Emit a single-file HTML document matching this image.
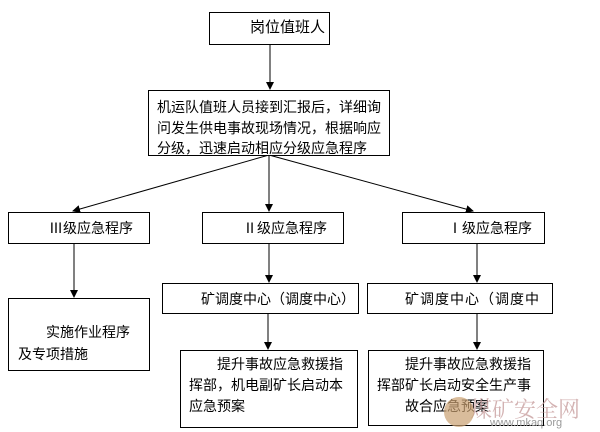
<!DOCTYPE html>
<html><head><meta charset="utf-8"><style>
body{margin:0;width:600px;height:432px;background:#fff;position:relative;overflow:hidden;font-family:"Liberation Sans","Noto Sans CJK SC","WenQuanYi Zen Hei",sans-serif;color:#000}
.b{position:absolute;border:1px solid #000;box-sizing:border-box;background:#fff;overflow:hidden;font-size:14px;line-height:20px}
.t{position:absolute;white-space:nowrap}
svg{position:absolute;left:0;top:0}
</style></head><body>
<svg width="600" height="432">
<defs><marker id="a" markerWidth="8" markerHeight="8" refX="7" refY="4" orient="auto" markerUnits="userSpaceOnUse"><path d="M0,0 L8,4 L0,8 z" fill="#000"/></marker></defs>
<g stroke="#000" stroke-width="1" fill="none">
<line x1="270" y1="44" x2="270" y2="89" marker-end="url(#a)"/>
<line x1="269" y1="155" x2="269" y2="211" marker-end="url(#a)"/>
<line x1="269" y1="155" x2="73" y2="211" marker-end="url(#a)"/>
<line x1="269" y1="155" x2="473" y2="211" marker-end="url(#a)"/>
<line x1="74" y1="243" x2="74" y2="297" marker-end="url(#a)"/>
<line x1="269" y1="243" x2="269" y2="282" marker-end="url(#a)"/>
<line x1="477" y1="243" x2="477" y2="282" marker-end="url(#a)"/>
<line x1="268" y1="313" x2="268" y2="349" marker-end="url(#a)"/>
<line x1="477" y1="313" x2="477" y2="349" marker-end="url(#a)"/>
</g></svg>
<div class="b" style="left:209px;top:12px;width:121px;height:33px"><span class="t" style="left:40px;top:5px;font-size:15px">岗位值班人</span></div>
<div class="b" style="left:148px;top:90px;width:242px;height:66px;font-size:14px;line-height:20.5px"><div style="position:absolute;left:8px;top:6px;white-space:nowrap">机运队值班人员接到汇报后，详细询<br>问发生供电事故现场情况，根据响应<br>分级，迅速启动相应分级应急程序</div></div>
<div class="b" style="left:8px;top:212px;width:142px;height:32px"><span class="t" style="left:40px;top:5px">Ⅲ级应急程序</span></div>
<div class="b" style="left:202px;top:212px;width:142px;height:32px"><span class="t" style="left:40px;top:5px">Ⅱ级应急程序</span></div>
<div class="b" style="left:402px;top:212px;width:143px;height:32px"><span class="t" style="left:45px;top:5px">Ⅰ级应急程序</span></div>
<div class="b" style="left:8px;top:298px;width:142px;height:73px"><div class="t" style="left:9px;top:22px;line-height:22px">　　实施作业程序<br>及专项措施</div></div>
<div class="b" style="left:162px;top:283px;width:197px;height:31px;font-size:14px"><span class="t" style="left:38px;top:5px">矿调度中心（调度中心）</span></div>
<div class="b" style="left:367px;top:283px;width:186px;height:31px;font-size:14px"><span class="t" style="left:37px;top:5px;letter-spacing:1px">矿调度中心（调度中</span></div>
<div class="b" style="left:180px;top:350px;width:178px;height:78px"><div class="t" style="left:8px;top:3px;line-height:21px">　　提升事故应急救援指<br>挥部，机电副矿长启动本<br>应急预案</div></div>
<div class="b" style="left:368px;top:350px;width:176px;height:76px"><div class="t" style="left:8px;top:3px;line-height:21px">　　提升事故应急救援指<br>挥部矿长启动安全生产事<br>　　故合应急预案</div></div>
<div class="t" style="left:470px;top:393px;font-size:22px;color:#c9a0a0;font-family:'Noto Serif CJK SC',serif;opacity:.8">煤矿安全网</div>
<div class="t" style="left:490px;top:417px;font-size:11px;color:#999">www.mkaq.org</div>
<div style="position:absolute;left:444px;top:397px;width:30px;height:30px;border-radius:50%;background:#c9a070;opacity:.7"></div>
</body></html>
